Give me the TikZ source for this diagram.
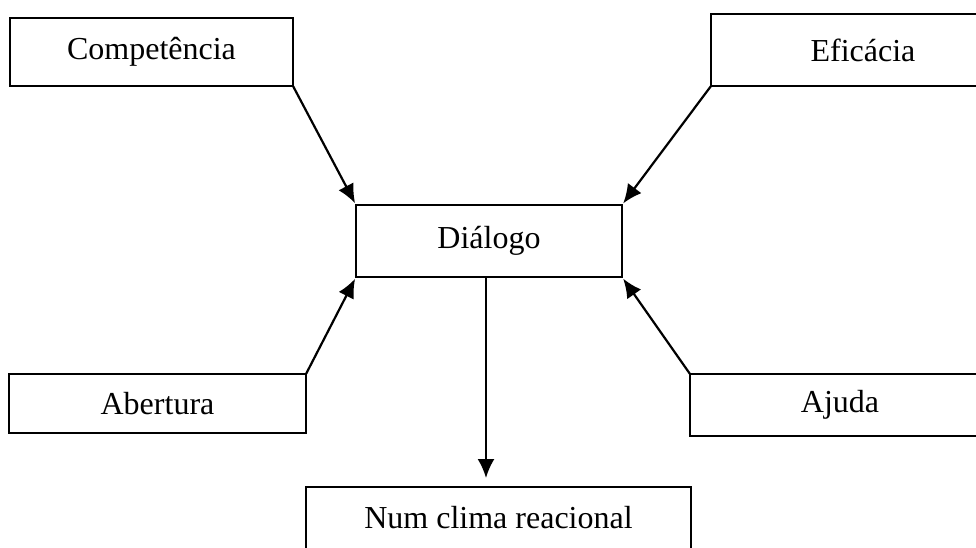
\documentclass[tikz,border=0pt]{standalone}
\usepackage{fontspec}
\setmainfont{Liberation Serif}
\usetikzlibrary{arrows.meta}
\begin{document}
\begin{tikzpicture}[x=1pt, y=-1pt,
  box/.style={draw, line width=1.6pt, inner sep=0pt, outer sep=0pt, font=\fontsize{32}{38}\selectfont},
  link/.style={-{Latex[length=19pt,width=17pt]}, line width=2.2pt, shorten >=2pt}]
\useasboundingbox (0,0) rectangle (976,547);
\node[box, minimum width=283, minimum height=68] (comp) at (151.5,52) {Competência};
\node[box, minimum width=304, minimum height=72] (efic) at (863,50) {Eficácia};
\node[box, minimum width=266, minimum height=72] (dial) at (489,241) {Diálogo};
\node[box, minimum width=297, minimum height=59] (aber) at (157.5,403.5) {Abertura};
\node[box, minimum width=300, minimum height=62] (ajud) at (840,405) {Ajuda};
\node[box, minimum width=385, minimum height=62] (clima) at (498.5,518) {Num clima reacional};
\draw[link] (comp.south east)--(dial.north west);
\draw[link] (efic.south west)--(dial.north east);
\draw[link] (aber.north east)--(dial.south west);
\draw[link] (ajud.north west)--(dial.south east);
\draw[link, shorten >=9pt] ([xshift=-3pt]dial.south)--([xshift=-3pt]dial.south |- clima.north);
\end{tikzpicture}
\end{document}
